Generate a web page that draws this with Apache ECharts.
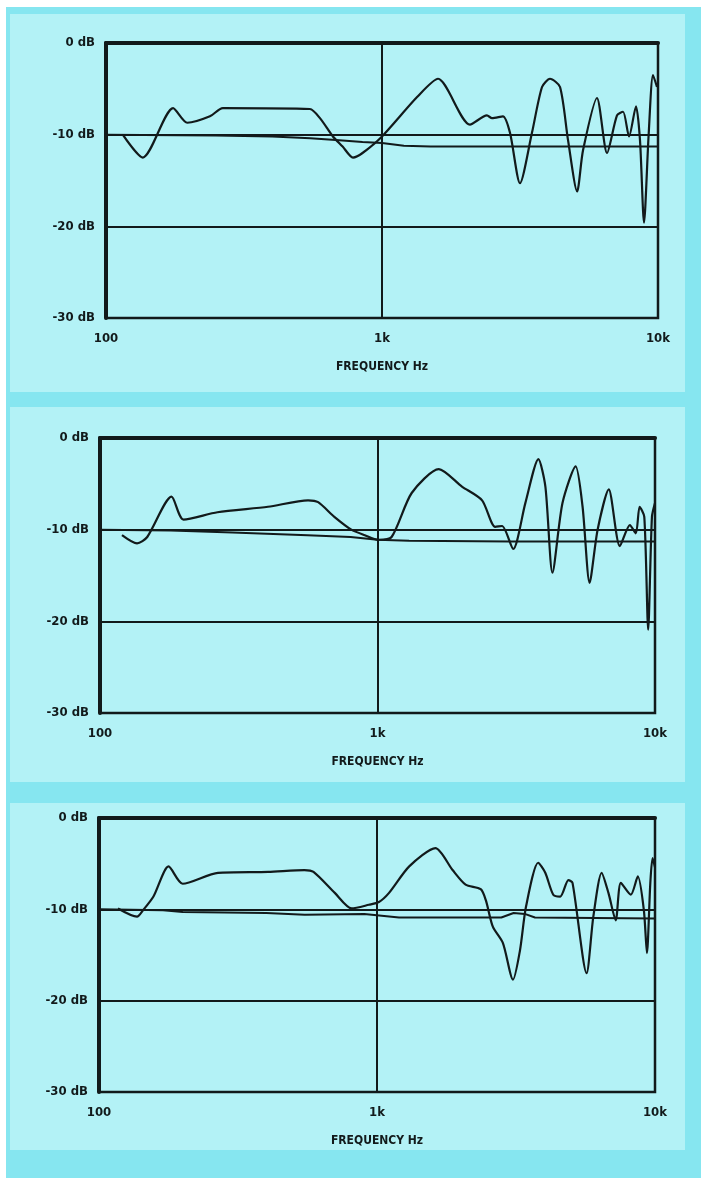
<!DOCTYPE html>
<html>
<head>
<meta charset="utf-8">
<script src="https://cdn.jsdelivr.net/npm/echarts@6/dist/echarts.min.js"></script>
<style>
html,body{margin:0;padding:0;background:#ffffff;}
#chart{width:701px;height:1178px;}
</style>
</head>
<body>
<div id="chart"></div>
<script>
// ---- tick labels ----
const xTickValues = [100, 1000, 10000];
const xTickLabels = ['100', '1k', '10k'];
const yTickValues = [0, -10, -20, -30];
const yTickLabels = ['0 dB', '-10 dB', '-20 dB', '-30 dB'];
const xAxisTitle = 'FREQUENCY Hz';

// ---- panel 1 ----
const p1Freq = [115, 136, 175, 197, 238, 265, 548, 596, 664, 720, 785, 850, 1000, 1340, 1596, 2083, 2400, 2504, 2743, 2909, 3162, 3494, 3800, 4061, 4416, 4721, 5093, 5350, 6010, 6536, 7103, 7470, 7853, 8323, 8605, 8898, 9250, 9594, 9916];
const p1Resp = [-10.0, -12.5, -7.1, -8.7, -8.0, -7.1, -7.2, -8.2, -10.2, -11.3, -12.5, -12.0, -10.2, -5.9, -3.9, -8.9, -7.9, -8.2, -8.0, -9.8, -15.3, -9.8, -4.8, -3.9, -4.8, -10.6, -16.2, -11.7, -6.0, -12.0, -7.9, -7.5, -10.2, -6.9, -10.6, -19.6, -10.0, -3.5, -4.8];
const p1RefFreq = [100, 250, 400, 550, 700, 850, 1000, 1200, 1500, 3000, 10000];
const p1Ref = [-10.0, -10.1, -10.2, -10.4, -10.6, -10.8, -10.9, -11.2, -11.3, -11.3, -11.3];

// ---- panel 2 ----
const p2Freq = [120, 136, 148, 181, 200, 265, 403, 562, 611, 699, 805, 900, 1008, 1124, 1328, 1663, 2015, 2382, 2655, 2812, 3084, 3410, 3800, 4027, 4270, 4641, 5176, 5483, 5811, 6211, 6813, 7470, 8118, 8531, 8800, 9150, 9450, 9750, 10000];
const p2Resp = [-10.6, -11.5, -10.8, -6.4, -8.9, -8.1, -7.5, -6.8, -7.0, -8.6, -10.0, -10.6, -11.1, -10.8, -6.0, -3.4, -5.3, -6.8, -9.7, -9.6, -12.1, -7.1, -2.3, -5.3, -14.7, -7.1, -3.1, -7.5, -15.8, -10.0, -5.6, -11.8, -9.5, -10.4, -7.5, -8.6, -20.9, -8.6, -7.1];
const p2RefFreq = [100, 180, 300, 560, 800, 1000, 1300, 3000, 10000];
const p2Ref = [-10.0, -10.1, -10.3, -10.6, -10.8, -11.1, -11.2, -11.3, -11.3];

// ---- panel 3 ----
const p3Freq = [117, 137, 144, 157, 178, 200, 268, 406, 548, 591, 705, 811, 935, 1016, 1105, 1306, 1623, 1870, 2083, 2361, 2463, 2610, 2838, 3084, 3268, 3436, 3800, 4030, 4305, 4564, 4880, 5050, 5675, 6000, 6427, 6800, 7223, 7535, 8185, 8674, 9120, 9354, 9620, 9800, 10000];
const p3Resp = [-9.9, -10.8, -10.1, -8.6, -5.3, -7.2, -6.0, -5.9, -5.7, -5.9, -8.2, -9.9, -9.5, -9.2, -8.2, -5.3, -3.3, -5.7, -7.3, -7.8, -9.0, -11.9, -13.7, -17.7, -14.5, -9.7, -4.9, -6.0, -8.4, -8.6, -6.8, -7.1, -17.0, -10.8, -6.0, -8.2, -11.2, -7.1, -8.4, -6.4, -10.1, -14.8, -7.1, -4.4, -5.4];
const p3RefFreq = [100, 170, 200, 400, 550, 900, 1200, 2800, 3100, 3400, 3700, 10000];
const p3Ref = [-10.0, -10.1, -10.3, -10.4, -10.6, -10.5, -10.9, -10.9, -10.4, -10.5, -10.9, -11.0];

const panels = [
  {freq: p1Freq, resp: p1Resp, refFreq: p1RefFreq, ref: p1Ref},
  {freq: p2Freq, resp: p2Resp, refFreq: p2RefFreq, ref: p2Ref},
  {freq: p3Freq, resp: p3Resp, refFreq: p3RefFreq, ref: p3Ref}
];

const gridBoxes = [
  {left: 106, top: 43, width: 552, height: 275},
  {left: 100, top: 438, width: 555, height: 275},
  {left: 99, top: 818, width: 556, height: 274}
];

const INK = '#121a1b';
const FONT = '"DejaVu Sans Condensed", "Liberation Sans Narrow", sans-serif';
const BAND = '#86e6f0';
const PANEL = '#b3f2f6';

function zip(a, b) { return a.map((v, i) => [v, b[i]]); }

const grids = [], xAxes = [], yAxes = [], series = [];
gridBoxes.forEach((g, i) => {
  grids.push({
    left: g.left, top: g.top, width: g.width, height: g.height,
    show: true, borderColor: INK, borderWidth: 2.5, backgroundColor: 'transparent'
  });
  xAxes.push({
    type: 'log', logBase: 10, min: 100, max: 10000, gridIndex: i,
    axisLine: {show: true, lineStyle: {color: INK, width: 4}},
    axisTick: {show: false},
    axisLabel: {
      color: INK, fontFamily: FONT, fontWeight: 'bold', fontSize: 13, margin: 14,
      formatter: v => { const k = xTickValues.findIndex(t => Math.abs(t - v) < 1e-6 * t); return k >= 0 ? xTickLabels[k] : ''; }
    },
    splitLine: {show: true, lineStyle: {color: INK, width: 2}},
    name: xAxisTitle, nameLocation: 'middle', nameGap: 43,
    nameTextStyle: {color: INK, fontFamily: FONT, fontWeight: 'bold', fontSize: 12}
  });
  yAxes.push({
    type: 'value', min: -30, max: 0, interval: 10, gridIndex: i,
    axisLine: {show: true, onZero: false, lineStyle: {color: INK, width: 4}},
    axisTick: {show: false},
    axisLabel: {
      color: INK, fontFamily: FONT, fontWeight: 'bold', fontSize: 13, margin: 11,
      formatter: v => { const k = yTickValues.indexOf(v); return k >= 0 ? yTickLabels[k] : ''; }
    },
    splitLine: {show: true, lineStyle: {color: INK, width: 2}}
  });
  const p = panels[i];
  series.push({
    type: 'line', xAxisIndex: i, yAxisIndex: i, data: zip(p.refFreq, p.ref),
    showSymbol: false, smooth: false, lineStyle: {color: INK, width: 2}, z: 3
  });
  series.push({
    type: 'line', xAxisIndex: i, yAxisIndex: i, data: zip(p.freq, p.resp),
    showSymbol: false, smooth: 0.25, lineStyle: {color: INK, width: 2.2}, z: 4
  });
});

const graphic = [
  {type: 'rect', shape: {x: 6, y: 7, width: 695, height: 1171}, style: {fill: BAND}, z: -20, silent: true},
  {type: 'rect', shape: {x: 10, y: 14, width: 675, height: 378}, style: {fill: PANEL}, z: -19, silent: true},
  {type: 'rect', shape: {x: 10, y: 407, width: 675, height: 375}, style: {fill: PANEL}, z: -19, silent: true},
  {type: 'rect', shape: {x: 10, y: 803, width: 675, height: 347}, style: {fill: PANEL}, z: -19, silent: true}
];

const chart = echarts.init(document.getElementById('chart'), null, {renderer: 'canvas'});
chart.setOption({
  animation: false,
  backgroundColor: '#ffffff',
  graphic: graphic,
  grid: grids,
  xAxis: xAxes,
  yAxis: yAxes,
  series: series
});
</script>
</body>
</html>
